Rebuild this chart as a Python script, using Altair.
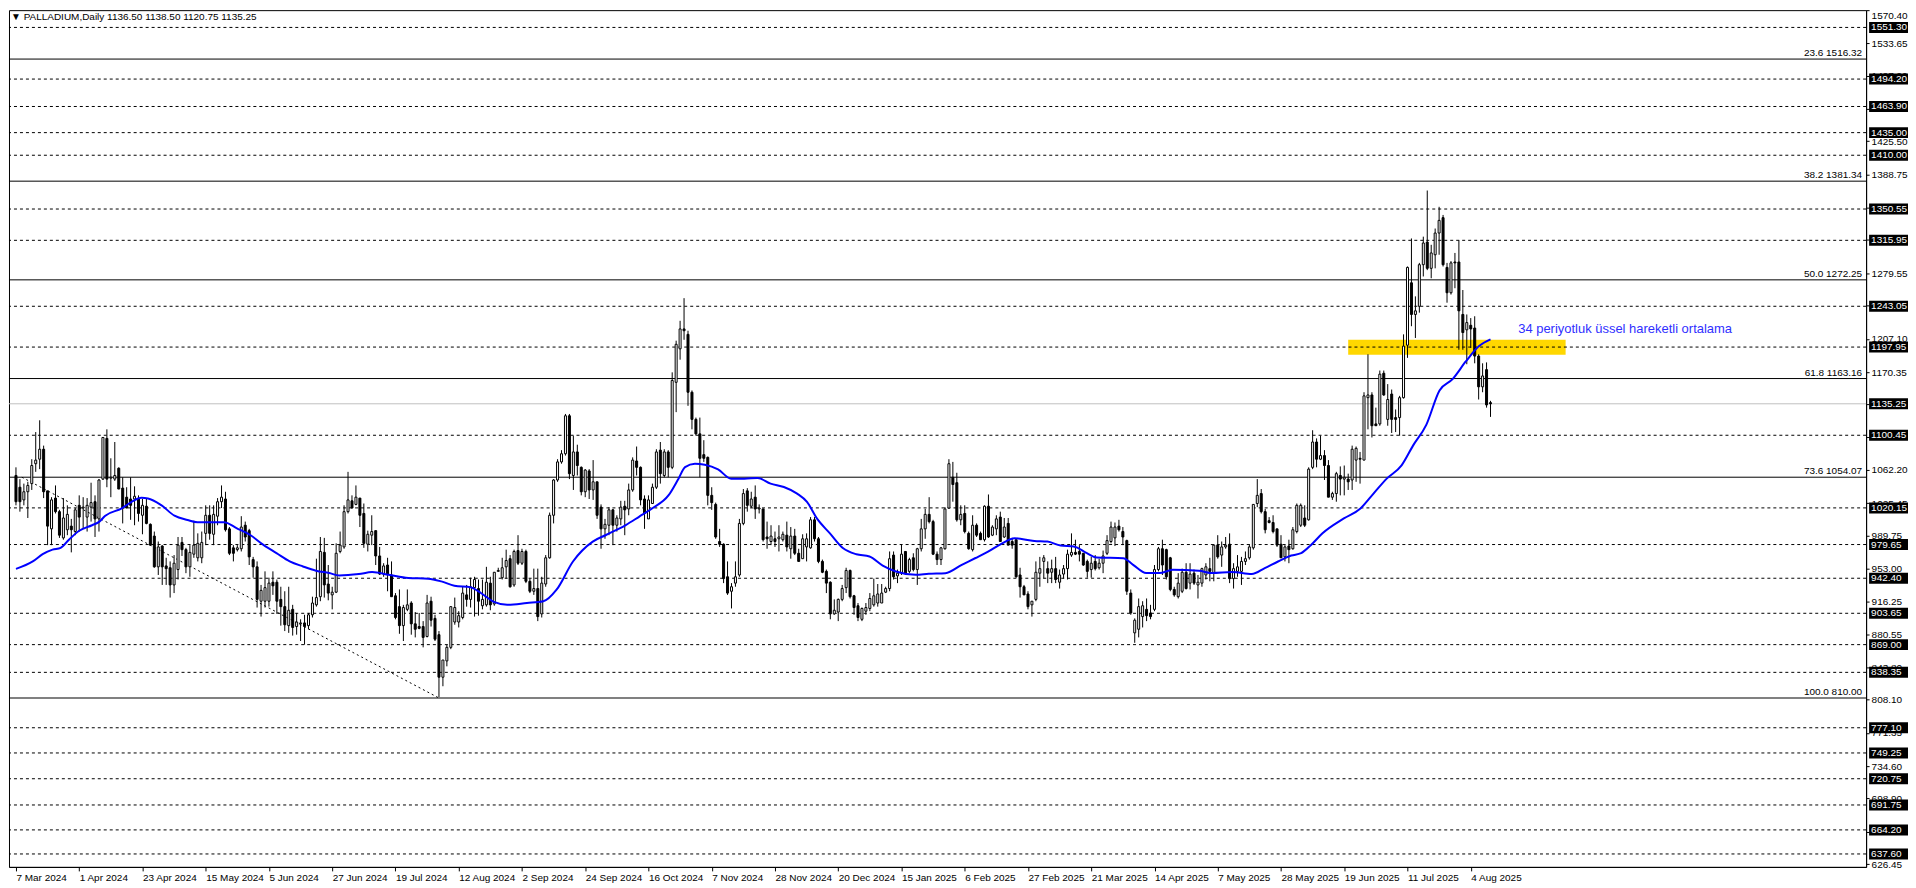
import altair as alt
import pandas as pd

# ---------------- data ----------------
dates = ["7 Mar 2024", "1 Apr 2024", "23 Apr 2024", "15 May 2024", "5 Jun 2024", "27 Jun 2024",
         "19 Jul 2024", "12 Aug 2024", "2 Sep 2024", "24 Sep 2024", "16 Oct 2024", "7 Nov 2024",
         "28 Nov 2024", "20 Dec 2024", "15 Jan 2025", "6 Feb 2025", "27 Feb 2025", "21 Mar 2025",
         "14 Apr 2025", "7 May 2025", "28 May 2025", "19 Jun 2025", "11 Jul 2025", "4 Aug 2025"]

opens = [
    1056, 1043, 1029, 1038, 1047, 1069, 1074, 1085, 1039, 997,
    1031, 1016, 987, 996, 1000, 994, 1023, 1020, 1010, 1021,
    1027, 1008, 1052, 1097, 1053, 1052, 1064, 1042, 1032, 1030,
    1030, 1030, 1012, 1022, 1002, 989, 955, 978, 956, 954,
    935, 952, 982, 974, 955, 969, 965, 965, 992, 1012,
    991, 1011, 1027, 1030, 997, 976, 974, 975, 1001, 995,
    963, 955, 917, 917, 917, 938, 938, 919, 911, 890,
    908, 889, 892, 893, 890, 902, 913, 922, 971, 936,
    924, 927, 972, 977, 1016, 1028, 1024, 1031, 1014, 980,
    990, 995, 967, 947, 957, 946, 923, 911, 890, 908,
    915, 892, 889, 889, 878, 917, 898, 880, 833, 851,
    866, 894, 894, 899, 924, 919, 932, 931, 912, 913,
    937, 914, 950, 943, 955, 964, 935, 973, 959, 972,
    939, 928, 931, 903, 936, 965, 1012, 1051, 1071, 1080,
    1122, 1056, 1082, 1065, 1038, 1061, 1040, 1049, 1021, 997,
    1001, 1018, 1001, 1008, 1022, 1019, 1040, 1072, 1065, 1030,
    1008, 1025, 1043, 1084, 1056, 1082, 1065, 1159, 1196, 1218,
    1212, 1148, 1118, 1102, 1079, 1076, 1034, 1024, 983, 980,
    944, 928, 937, 946, 1003, 1039, 1022, 1032, 1019, 1019,
    988, 983, 986, 986, 985, 990, 975, 989, 970, 964,
    977, 976, 1007, 986, 961, 950, 938, 903, 905, 919,
    932, 951, 923, 912, 897, 906, 909, 913, 915, 915,
    927, 931, 968, 945, 948, 972, 950, 965, 952, 975,
    997, 1013, 1005, 969, 963, 975, 1020, 1054, 1048, 1007,
    1014, 992, 974, 1001, 992, 985, 1022, 990, 997, 1010,
    988, 1003, 983, 985, 946, 933, 925, 913, 919, 948,
    961, 953, 949, 953, 938, 947, 953, 968, 971, 972,
    970, 961, 952, 961, 954, 959, 970, 983, 987, 1000,
    994, 984, 926, 882, 886, 900, 908, 904, 908, 952,
    975, 974, 965, 930, 922, 928, 949, 937, 948, 935,
    937, 946, 953, 948, 979, 968, 977, 980, 942, 950,
    950, 961, 965, 976, 1025, 1036, 1016, 1006, 1004, 997,
    980, 966, 978, 975, 994, 1001, 1009, 1007, 1065, 1093,
    1074, 1078, 1067, 1032, 1036, 1056, 1052, 1052, 1051, 1073,
    1075, 1073, 1142, 1145, 1113, 1113, 1169, 1118, 1146, 1120,
    1120, 1142, 1200, 1269, 1234, 1243, 1289, 1314, 1285, 1300,
    1324, 1341, 1286, 1258, 1292, 1292, 1234, 1217, 1222, 1219,
    1188, 1154, 1173, 1136.50]

highs = [
    1065, 1052, 1047, 1049, 1074, 1104, 1117, 1089, 1039, 1032,
    1045, 1018, 1031, 1023, 1008, 1020, 1034, 1032, 1031, 1048,
    1034, 1052, 1098, 1107, 1075, 1093, 1065, 1054, 1043, 1054,
    1044, 1034, 1030, 1030, 1003, 994, 983, 979, 965, 961,
    968, 988, 988, 976, 979, 1006, 992, 994, 1023, 1023,
    1023, 1031, 1045, 1038, 999, 979, 979, 1011, 1005, 997,
    966, 961, 935, 950, 943, 950, 941, 933, 928, 933,
    913, 904, 897, 902, 904, 922, 964, 988, 987, 957,
    933, 981, 994, 1023, 1060, 1034, 1045, 1031, 1025, 995,
    1012, 995, 977, 959, 965, 961, 926, 930, 913, 930,
    917, 905, 904, 895, 924, 922, 902, 884, 852, 869,
    911, 921, 906, 933, 935, 943, 944, 941, 941, 955,
    944, 949, 954, 965, 974, 968, 974, 990, 975, 974,
    942, 953, 953, 944, 968, 1015, 1052, 1074, 1084, 1124,
    1124, 1100, 1090, 1066, 1063, 1063, 1073, 1049, 1024, 1008,
    1021, 1019, 1012, 1028, 1028, 1047, 1076, 1088, 1066, 1034,
    1034, 1047, 1085, 1093, 1085, 1084, 1170, 1205, 1227, 1252,
    1216, 1150, 1120, 1120, 1095, 1077, 1043, 1026, 997, 981,
    961, 937, 961, 1008, 1041, 1042, 1038, 1045, 1024, 1019,
    1005, 1001, 994, 1001, 994, 1005, 999, 997, 975, 991,
    992, 1010, 1010, 988, 963, 952, 939, 919, 920, 935,
    954, 952, 924, 915, 910, 915, 926, 942, 936, 936,
    933, 972, 972, 952, 980, 972, 965, 970, 976, 1008,
    1019, 1032, 1007, 972, 977, 1021, 1074, 1071, 1059, 1023,
    1023, 994, 1012, 1003, 994, 1023, 1035, 1001, 1012, 1016,
    1009, 1009, 987, 985, 954, 935, 928, 917, 961, 966,
    968, 961, 963, 966, 952, 957, 974, 992, 985, 979,
    970, 963, 966, 968, 964, 973, 990, 1005, 1004, 1007,
    999, 985, 930, 898, 920, 917, 920, 913, 957, 977,
    985, 975, 966, 933, 948, 953, 959, 959, 952, 946,
    954, 959, 965, 980, 990, 983, 988, 992, 959, 968,
    966, 972, 980, 1024, 1052, 1041, 1019, 1010, 1012, 997,
    990, 979, 985, 999, 1025, 1025, 1023, 1065, 1106, 1097,
    1100, 1084, 1073, 1038, 1060, 1066, 1067, 1058, 1089, 1088,
    1082, 1148, 1190, 1148, 1131, 1172, 1172, 1157, 1151, 1129,
    1144, 1212, 1287, 1318, 1254, 1291, 1320, 1371, 1311, 1329,
    1353, 1344, 1291, 1293, 1302, 1316, 1261, 1234, 1230, 1232,
    1190, 1180, 1181, 1138.50]

lows = [
    1023, 1016, 1023, 1009, 1040, 1060, 1063, 1031, 979, 979,
    1014, 987, 985, 990, 971, 990, 994, 997, 994, 1005,
    988, 994, 1051, 1043, 1032, 1050, 1041, 1003, 1020, 1007,
    1001, 1005, 991, 1002, 979, 954, 946, 935, 935, 921,
    926, 941, 967, 948, 944, 965, 961, 959, 979, 985,
    979, 1001, 1020, 994, 968, 961, 972, 972, 983, 957,
    943, 910, 900, 910, 911, 924, 903, 890, 884, 882,
    879, 880, 873, 869, 886, 899, 911, 917, 921, 918,
    908, 926, 970, 975, 1014, 1020, 1023, 999, 976, 972,
    979, 957, 946, 944, 928, 922, 897, 881, 873, 906,
    880, 877, 886, 866, 877, 889, 873, 811, 823, 845,
    864, 891, 888, 897, 911, 910, 900, 901, 908, 911,
    907, 912, 950, 941, 942, 932, 933, 957, 957, 937,
    926, 924, 895, 899, 933, 964, 1003, 1049, 1069, 1078,
    1052, 1040, 1056, 1034, 1032, 1030, 1029, 1008, 975, 986,
    990, 979, 994, 1001, 990, 1012, 1038, 1056, 1023, 997,
    1008, 1025, 1041, 1047, 1054, 1054, 1063, 1126, 1184, 1206,
    1133, 1107, 1100, 1054, 1071, 1023, 1018, 986, 977, 937,
    924, 909, 933, 944, 1001, 1016, 1020, 1008, 1014, 983,
    975, 979, 977, 972, 983, 972, 964, 968, 961, 964,
    961, 975, 983, 959, 948, 926, 897, 902, 895, 917,
    926, 920, 902, 895, 895, 902, 906, 911, 911, 915,
    926, 928, 941, 937, 946, 946, 948, 950, 935, 972,
    986, 1003, 968, 957, 957, 974, 1019, 1027, 1005, 1001,
    992, 974, 972, 988, 985, 983, 987, 989, 990, 983,
    987, 979, 975, 943, 921, 924, 908, 900, 917, 933,
    942, 937, 937, 937, 931, 942, 941, 966, 968, 961,
    956, 943, 943, 951, 952, 948, 968, 981, 978, 994,
    979, 924, 902, 871, 877, 888, 895, 897, 906, 950,
    946, 941, 928, 922, 920, 926, 930, 930, 935, 920,
    933, 941, 939, 939, 964, 955, 975, 937, 931, 944,
    935, 957, 963, 974, 1021, 1014, 992, 1003, 992, 977,
    965, 961, 959, 974, 992, 999, 999, 1006, 1063, 1065,
    1073, 1051, 1032, 1029, 1027, 1034, 1034, 1040, 1040, 1049,
    1047, 1073, 1107, 1098, 1111, 1111, 1144, 1111, 1103, 1104,
    1100, 1141, 1186, 1221, 1208, 1236, 1276, 1283, 1274, 1285,
    1300, 1287, 1247, 1256, 1263, 1195, 1195, 1179, 1197, 1180,
    1140, 1148, 1131, 1120.75]

closes = [
    1027, 1027, 1038, 1045, 1067, 1073, 1085, 1038, 1000, 1029,
    1016, 990, 1009, 1013, 996, 1018, 1010, 1021, 1023, 1026,
    1008, 1051, 1098, 1052, 1054, 1056, 1041, 1020, 1020, 1023,
    1033, 1014, 1023, 1003, 979, 955, 977, 955, 953, 935,
    959, 979, 974, 955, 971, 979, 981, 982, 1012, 992,
    1013, 1027, 1032, 996, 970, 970, 976, 999, 988, 966,
    955, 919, 929, 932, 937, 934, 917, 911, 891, 907,
    888, 894, 893, 889, 902, 915, 921, 972, 935, 926,
    927, 970, 979, 1016, 1029, 1020, 1032, 1012, 981, 991,
    994, 967, 947, 956, 947, 922, 899, 890, 910, 913,
    892, 886, 887, 877, 915, 896, 875, 833, 852, 866,
    911, 910, 901, 926, 919, 933, 941, 917, 919, 938,
    913, 949, 951, 954, 962, 933, 972, 959, 972, 939,
    928, 931, 900, 937, 965, 1012, 1051, 1071, 1080, 1122,
    1058, 1082, 1067, 1038, 1062, 1040, 1049, 1012, 997, 1002,
    1018, 1001, 1009, 1021, 1018, 1040, 1073, 1065, 1029, 1014,
    1029, 1043, 1082, 1058, 1082, 1065, 1161, 1201, 1218, 1216,
    1148, 1118, 1102, 1075, 1075, 1034, 1026, 988, 980, 942,
    926, 933, 944, 1003, 1036, 1023, 1030, 1019, 1020, 985,
    986, 989, 983, 988, 991, 977, 989, 970, 961, 986,
    986, 1007, 986, 961, 949, 937, 903, 907, 919, 931,
    951, 922, 910, 899, 909, 910, 920, 923, 925, 926,
    931, 964, 944, 948, 969, 948, 963, 952, 975, 997,
    1013, 1005, 969, 963, 976, 1019, 1069, 1046, 1007, 1013,
    994, 975, 1001, 990, 985, 1022, 988, 999, 1008, 983,
    999, 979, 979, 944, 933, 924, 911, 917, 949, 953,
    965, 948, 953, 941, 946, 953, 969, 971, 969, 969,
    957, 950, 959, 953, 959, 967, 984, 999, 999, 996,
    988, 928, 904, 896, 911, 912, 901, 900, 952, 975,
    957, 944, 930, 924, 937, 949, 931, 947, 937, 938,
    953, 955, 950, 979, 966, 977, 979, 942, 953, 955,
    961, 964, 977, 1024, 1034, 1016, 996, 1004, 994, 979,
    965, 977, 974, 996, 1023, 1023, 1001, 1063, 1093, 1074,
    1078, 1067, 1032, 1036, 1058, 1052, 1054, 1049, 1085, 1086,
    1074, 1144, 1145, 1111, 1111, 1168, 1145, 1140, 1118, 1118,
    1142, 1199, 1286, 1234, 1238, 1289, 1313, 1285, 1302, 1324,
    1338, 1289, 1258, 1291, 1291, 1238, 1214, 1225, 1218, 1188,
    1154, 1166, 1134, 1135.25]

# 34-period EMA (bar index, price)
ema_bar = [0, 4.25, 6.75, 9.25, 11.3, 13.4, 15.9, 19.25, 21.1, 22.6,
           26.75, 29.25, 31.75, 33.4, 36.75, 40.1, 43.4, 45.9, 52.6, 55.9,
           59.25, 62.6, 65.9, 69.25, 72.6, 75.9, 79.25, 81.75, 86.75, 90.1,
           94.25, 99.25, 104.25, 107.6, 110.9, 115.1, 117.6, 120.9, 124.25,
           129.25, 133.4, 136.75, 140.9, 145.9, 149.25, 154.25, 157.6, 160.9, 165.1,
           167.6, 169.25, 171.75, 174.25, 177.6, 180.9, 184.25, 187.6, 190.9, 194.25,
           197.6, 200.1, 202.6, 205.9, 209.25, 212.6, 215.9, 219.25, 222.6, 227.6,
           230.9, 235.1, 239.25, 242.6, 245.9, 249.25,
           252.6, 257.6, 260.9, 264.25, 267.6, 270.9, 273.4, 280.1, 282.6, 285.9,
           289.25, 292.6, 299.25, 302.6, 307.6, 312.6, 315.9, 319.25, 322.6, 325.1,
           327.6, 330.5, 335.9, 340.1, 343.4, 346.75, 350.5, 353.4, 356.75, 360.1,
           363.4, 366.75, 370.1, 373.0]
ema_val = [952.8, 961, 969, 974, 976, 985, 994.6, 1001, 1005, 1011.5,
           1019.6, 1026.9, 1031.3, 1030.6, 1023.2, 1011.5, 1006.7, 1004.2, 1004.2, 997.6,
           990.2, 979.2, 970.1, 961, 955.4, 950.7, 948.1, 945.5, 947, 949.2,
           946.3, 942.6, 941.9, 938.9, 934.2, 932.3, 926.1, 916.2, 913,
           915, 916.9, 929.7, 960.9, 982.9, 990.2, 1001.2, 1010.3, 1019.5, 1034.2,
           1052.5, 1065.3, 1069, 1067.9, 1062.7, 1052.5, 1052.5, 1053.2, 1047, 1043.3,
           1036, 1026.8, 1008.5, 992, 975.5, 968.9, 966.4, 956.4, 949.9, 946.2,
           947.3, 948, 957.2, 964.5, 971.8, 980.5,
           986.6, 983.6, 982.9, 978.5, 977.4, 970.1, 965.3, 964.6, 957.2, 948.1,
           948.1, 951.7, 950.6, 948.1, 949.2, 947, 953.6, 960.9, 967.5, 970.1,
           979.2, 992.1, 1008.5, 1019.5, 1036, 1052.5, 1067.2, 1089, 1112, 1150,
           1162.5, 1182, 1199, 1206.4]

dashed_levels = [1551.30, 1494.20, 1463.90, 1435.00, 1410.00, 1350.55, 1315.95, 1243.05,
                 1197.95, 1100.45, 1020.15, 979.65, 942.40, 903.65, 869.00, 838.35,
                 777.10, 749.25, 720.75, 691.75, 664.20, 637.60]
fib_levels = [1516.32, 1381.34, 1272.25, 1163.16, 1054.07, 810.00]
fib_names = ["23.6", "38.2", "50.0", "61.8", "73.6", "100.0"]
last_price = 1135.25
axis_ticks = [1570.40, 1533.65, 1497.90, 1461.15, 1425.50, 1388.75, 1352.00, 1316.30,
              1279.55, 1243.80, 1207.10, 1170.35, 1134.60, 1098.90, 1062.20, 1025.45,
              989.75, 953.00, 916.25, 880.55, 843.80, 808.10, 771.35, 734.60, 698.90,
              662.20, 626.45]
trend_bar = [1.5, 107]
trend_val = [1054.07, 810.00]
band_bar = [337, 392]
band_val = [1189.5, 1206.0]
title_text = "\u25bc PALLADIUM,Daily  1136.50 1138.50 1120.75 1135.25"
ema_note = "34 periyotluk üssel hareketli ortalama"
note_bar, note_val = 380, 1218

# ---------------- chart ----------------
W, H = 1862, 859
FONT = "Liberation Sans"
xs = alt.Scale(domain=[-0.5, 466.75], nice=False, zero=False)
ys = alt.Scale(domain=[623.3, 1570.4], nice=False, zero=False)

label_expr = "[" + ",".join("'%s'" % d for d in dates) + "][round(datum.value/16)]"
xaxis = alt.Axis(values=[16 * k for k in range(len(dates))], labelExpr=label_expr,
                 labelAlign="left", labelPadding=2, tickSize=4, labelFontSize=10,
                 labelFont=FONT, labelColor="black", tickColor="black", domainColor="black",
                 grid=False, title=None, labelOverlap=False, labelFlush=False, labelBound=False)
yaxis = alt.Axis(orient="right", values=axis_ticks, format=".2f", labelFontSize=10,
                 labelFont=FONT, labelColor="black", tickColor="black", domainColor="black",
                 tickSize=3, labelPadding=2, grid=False, title=None, labelOverlap=False,
                 labelFlush=True, labelBound=False)

n = min(len(opens), len(highs), len(lows), len(closes))
df = pd.DataFrame({"i": list(range(n)), "o": opens[:n], "h": highs[:n],
                   "l": lows[:n], "c": closes[:n]})
df["h"] = df[["h", "o", "c"]].max(axis=1)
df["l"] = df[["l", "o", "c"]].min(axis=1)


def X(f):
    return alt.X(f, type="quantitative", scale=xs, axis=xaxis)


def Y(f):
    return alt.Y(f, type="quantitative", scale=ys, axis=yaxis)


band = alt.Chart(pd.DataFrame({"x1": [band_bar[0]], "x2": [band_bar[1]],
                               "y1": [band_val[0]], "y2": [band_val[1]]})).mark_rect(
    color="#FFD700", opacity=1).encode(x=X("x1"), x2="x2", y=Y("y1"), y2="y2")

dashed = alt.Chart(pd.DataFrame({"p": dashed_levels})).mark_rule(
    color="black", strokeWidth=1, strokeDash=[3, 3]).encode(y=Y("p"))

fibs = alt.Chart(pd.DataFrame({"p": fib_levels})).mark_rule(
    color="black", strokeWidth=1).encode(y=Y("p"))

lastline = alt.Chart(pd.DataFrame({"p": [last_price]})).mark_rule(
    color="#c0c0c0", strokeWidth=1).encode(y=Y("p"))

trend = alt.Chart(pd.DataFrame({"b": trend_bar, "v": trend_val})).mark_line(
    color="black", strokeWidth=1, strokeDash=[2, 3]).encode(x=X("b"), y=Y("v"))

wicks = alt.Chart(df).mark_rule(color="black", strokeWidth=1).encode(
    x=X("i"), y=Y("l"), y2="h")

bodies = alt.Chart(df).mark_bar(size=2, stroke="black", strokeWidth=1).encode(
    x=X("i"), y=Y("o"), y2="c",
    fill=alt.condition("datum.c >= datum.o", alt.value("white"), alt.value("black")))

ema = alt.Chart(pd.DataFrame({"b": ema_bar, "v": ema_val})).mark_line(
    color="#0000ff", strokeWidth=2, interpolate="monotone").encode(x=X("b"), y=Y("v"))

fib_df = pd.DataFrame({"p": fib_levels,
                       "t": ["%s %.2f" % (nm, lv) for nm, lv in zip(fib_names, fib_levels)]})
fib_text = alt.Chart(fib_df).mark_text(
    align="right", baseline="bottom", dy=-1, fontSize=10, font=FONT, color="black").encode(
    x=alt.value(W - 4), y=Y("p"), text="t:N")

box_levels = dashed_levels + [last_price]
box_df = pd.DataFrame({"p": box_levels, "t": ["%.2f" % v for v in box_levels]})
boxes = alt.Chart(box_df).mark_rect(color="black", yOffset=-5.5, y2Offset=5.5).encode(
    x=alt.value(W + 3), x2=alt.value(W + 42), y=Y("p"), y2="p")
box_text = alt.Chart(box_df).mark_text(
    align="left", baseline="middle", fontSize=10, font=FONT, color="white").encode(
    x=alt.value(W + 5), y=Y("p"), text="t:N")

note = alt.Chart(pd.DataFrame({"b": [note_bar], "v": [note_val], "t": [ema_note]})).mark_text(
    align="left", baseline="middle", fontSize=13, font=FONT, color="#2f2fff").encode(
    x=X("b"), y=Y("v"), text="t:N")

title = alt.Chart(pd.DataFrame({"t": [title_text]})).mark_text(
    align="left", baseline="middle", fontSize=10, font=FONT, color="black").encode(
    x=alt.value(2), y=alt.value(7), text="t:N")

chart = alt.layer(band, dashed, fibs, lastline, trend, wicks, bodies, ema,
                  fib_text, boxes, box_text, note, title).properties(
    width=W, height=H, padding=0, background="white"
).configure_view(stroke="black", strokeWidth=1)

chart.save("out.html", embed_options={"renderer": "svg", "actions": False})
